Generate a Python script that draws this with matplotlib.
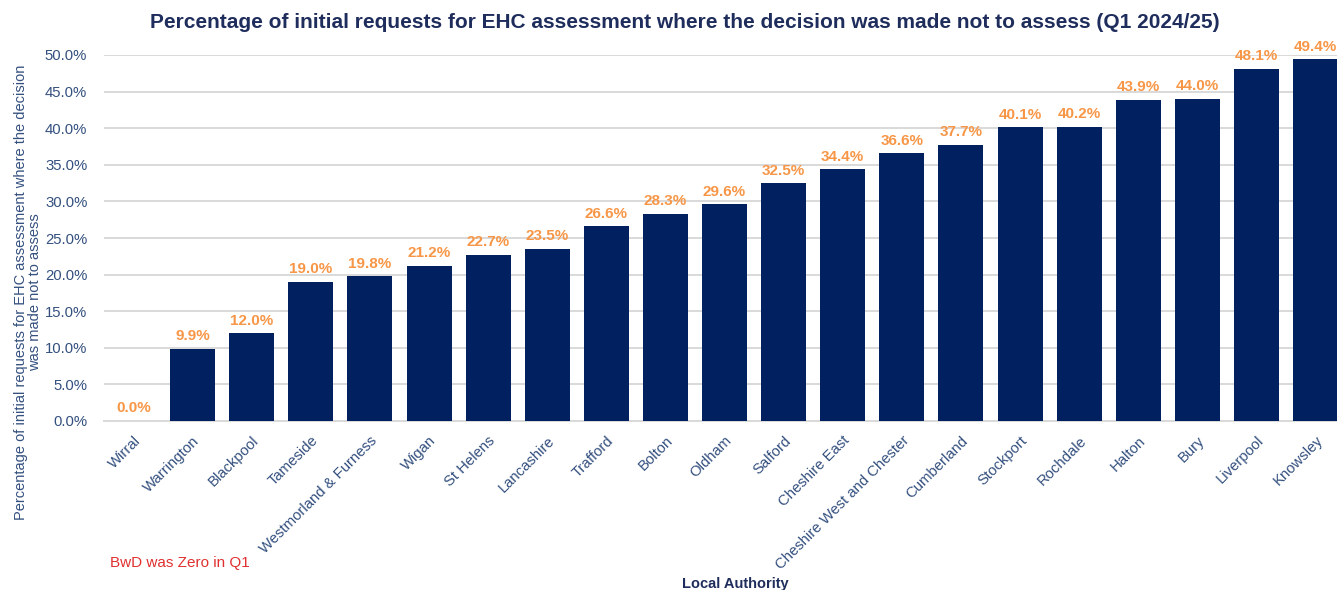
import matplotlib
matplotlib.use("Agg")
import matplotlib.pyplot as plt
from matplotlib.ticker import PercentFormatter

authorities = ["Wirral", "Warrington", "Blackpool", "Tameside", "Westmorland & Furness",
               "Wigan", "St Helens", "Lancashire", "Trafford", "Bolton", "Oldham",
               "Salford", "Cheshire East", "Cheshire West and Chester", "Cumberland",
               "Stockport", "Rochdale", "Halton", "Bury", "Liverpool", "Knowsley"]
pct_not_assessed = [0.0, 9.9, 12.0, 19.0, 19.8, 21.2, 22.7, 23.5, 26.6, 28.3, 29.6,
                    32.5, 34.4, 36.6, 37.7, 40.1, 40.2, 43.9, 44.0, 48.1, 49.4]
yticks = [0, 5, 10, 15, 20, 25, 30, 35, 40, 45, 50]

plt.rcParams['font.family'] = ['Liberation Sans', 'DejaVu Sans']

navy = "#002060"
orange = "#F79646"
tick_col = "#34507F"

fig = plt.figure(figsize=(13.37, 5.90), dpi=100)
ax = fig.add_axes([104/1337, 1 - 421/590, (21*59.1)/1337, (421-55)/590])

x = list(range(len(authorities)))
ax.bar(x, pct_not_assessed, width=0.76, color=navy, zorder=3)
for xi, v in zip(x, pct_not_assessed):
    ax.annotate(f"{v:.1f}%", (xi, v), xytext=(0, 4), textcoords="offset points",
                ha="center", va="bottom", color=orange, fontsize=11,
                fontweight="bold", clip_on=False, annotation_clip=False)

ax.set_xlim(-0.5, len(authorities) - 0.5)
ax.set_ylim(0, 50)
ax.set_yticks(yticks)
ax.yaxis.set_major_formatter(PercentFormatter(decimals=1))
ax.grid(axis="y", color="#D9D9D9", linewidth=1.4, zorder=0)
ax.set_axisbelow(True)
for s in ["top", "right", "left"]:
    ax.spines[s].set_visible(False)
ax.spines["bottom"].set_color("#D9D9D9")
ax.spines["bottom"].set_linewidth(1.4)
ax.tick_params(axis="both", length=0, colors=tick_col, labelsize=10.7)
ax.tick_params(axis="y", pad=12)
ax.set_xticks(x)
ax.set_xticklabels(authorities, rotation=45, ha="right", rotation_mode="anchor")
ax.tick_params(axis="x", pad=9)

fig.text(685/1337, 1 - 22/590,
         "Percentage of initial requests for EHC assessment where the decision was made not to assess (Q1 2024/25)",
         ha="center", va="center", fontsize=15, fontweight="bold", color="#1F2D5C")
fig.text(28/1337, 1 - 292/590,
         "Percentage of initial requests for EHC assessment where the decision\nwas made not to assess",
         rotation=90, ha="center", va="center", fontsize=10.5, color=tick_col, linespacing=1.0)
fig.text(735/1337, 1 - 584/590, "Local Authority", ha="center", va="center",
         fontsize=10.5, fontweight="bold", color="#1F2D5C")
fig.text(110/1337, 1 - 563/590, "BwD was Zero in Q1", ha="left", va="center",
         fontsize=11, color="#E03030")

fig.savefig("out.png", dpi=100)
